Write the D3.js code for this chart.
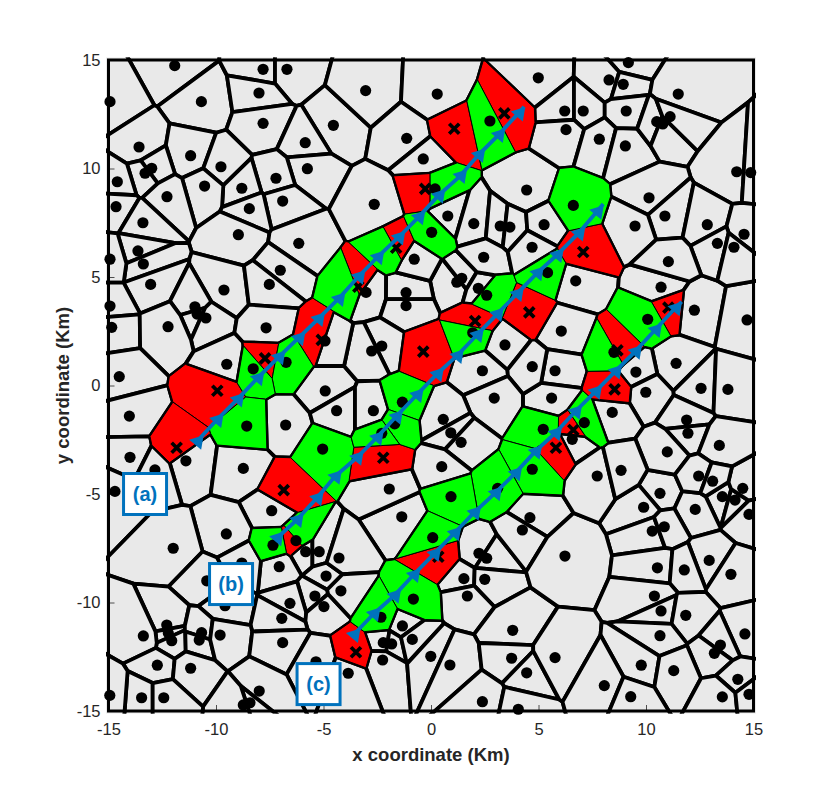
<!DOCTYPE html>
<html>
<head>
<meta charset="utf-8">
<script src="https://cdn.jsdelivr.net/npm/d3@7/dist/d3.min.js"></script>
<style>
html,body{margin:0;padding:0;background:#fff}
svg{display:block}
text{font-family:"Liberation Sans",Arial,sans-serif}
</style>
</head>
<body>
<svg id="c" width="830" height="799"></svg>
<script>
const tickValues = [-15,-10,-5,0,5,10,15];
const xTitle = "x coordinate (Km)";
const yTitle = "y coordinate (Km)";

const graySites = [[-11.92,14.74],[-14.93,13.08],[-10.68,13.08],[-7.81,14.57],[-6.70,14.57],[-8.00,13.48],[-7.81,12.08],[-4.54,11.99],[-5.85,11.19],[-13.58,10.99],[-11.18,10.59],[-9.77,10.08],[-5.75,9.99],[-12.99,10.01],[-13.30,9.78],[-14.59,9.39],[-7.21,9.55],[-8.80,9.09],[-10.53,9.19],[-12.28,8.70],[-6.90,8.50],[-8.45,8.15],[-14.65,8.24],[-13.40,7.50],[-8.96,6.95],[-6.15,6.55],[-13.63,6.20],[-13.38,5.60],[-14.93,5.82],[-7.01,5.31],[-13.04,4.66],[-9.63,4.40],[-7.52,4.66],[-14.93,3.66],[-10.98,3.63],[-10.88,3.29],[-10.47,3.11],[-14.85,2.68],[-12.23,2.71],[-7.67,2.66],[-9.50,0.98],[-14.50,0.41],[-4.92,-0.25],[-14.03,-1.41],[-6.76,-1.82],[-11.40,-3.47],[-14.00,-3.31],[-8.73,-3.82],[-12.84,-3.89],[-14.70,-4.88],[-7.41,-5.77],[-9.52,-6.84],[-11.99,-7.50],[-5.83,-7.66],[-5.20,-7.66],[-7.06,-8.35],[-8.80,-8.18],[-10.43,-9.00],[-4.88,-8.78],[-5.40,-9.70],[-6.56,-10.04],[-4.98,-10.19],[-9.58,-10.15],[-6.94,-10.73],[-12.29,-11.04],[-12.22,-11.41],[-12.06,-11.76],[-13.38,-11.54],[-10.67,-11.39],[-10.78,-11.73],[-9.81,-11.50],[-6.90,-11.85],[-12.73,-12.89],[-11.18,-13.03],[-5.35,-12.73],[-7.99,-14.08],[-8.42,-14.62],[-8.73,-14.72],[-13.46,-14.39],[-12.43,-14.39],[-14.94,-14.28],[-1.36,-6.05],[-1.94,-4.77],[-4.28,-7.95],[-4.19,-9.46],[2.23,-7.73],[2.59,-7.96],[1.53,-8.90],[2.50,-8.93],[1.69,-9.70],[-1.33,-11.08],[-2.22,-11.85],[-1.83,-11.91],[-0.87,-11.70],[3.80,-11.28],[-2.25,-12.65],[-0.01,-12.48],[0.88,-12.88],[-3.85,-13.26],[3.75,-12.57],[4.45,-13.24],[2.39,-14.57],[4.06,-14.92],[4.60,-6.09],[4.25,-6.66],[10.65,-4.97],[13.55,-5.12],[14.14,-5.28],[14.50,-4.74],[14.79,-5.94],[9.89,-5.61],[12.29,-5.71],[10.29,-6.71],[10.85,-6.51],[6.23,-7.86],[12.94,-8.06],[10.53,-8.40],[11.78,-8.50],[13.95,-8.70],[10.39,-9.70],[10.70,-10.39],[11.85,-10.59],[10.65,-11.53],[14.60,-11.45],[13.46,-11.96],[13.18,-12.34],[5.77,-12.54],[9.78,-12.89],[11.29,-13.14],[14.27,-13.54],[8.06,-13.83],[9.29,-14.34],[13.55,-14.35],[14.79,-14.23],[6.73,4.82],[10.70,4.53],[12.25,3.47],[14.70,3.02],[6.06,2.51],[11.40,1.02],[9.53,0.62],[5.77,0.68],[9.99,-0.31],[12.56,-0.13],[13.81,-0.18],[5.61,-0.58],[8.43,-1.24],[6.57,-2.48],[11.89,-1.59],[11.95,-2.20],[13.41,-2.76],[10.99,-3.06],[7.73,-4.17],[8.84,-3.91],[12.45,-4.17],[13.10,-4.41],[1.20,4.76],[1.43,4.94],[2.20,4.48],[-3.02,4.29],[-1.16,4.28],[-1.16,3.68],[-2.29,1.82],[-2.76,1.59],[3.44,1.87],[2.39,0.68],[4.71,0.87],[2.94,-0.58],[-4.39,-1.16],[-2.68,-1.16],[0.57,-1.56],[0.92,-2.18],[1.40,-2.62],[0.50,-3.74],[-3.04,13.59],[0.29,13.43],[4.99,14.18],[-1.13,11.39],[-0.36,10.44],[4.45,9.01],[-2.64,8.35],[0.78,7.81],[1.99,7.46],[3.22,7.35],[3.67,7.30],[5.26,7.41],[-0.78,5.82],[2.45,5.91],[4.70,6.37],[9.18,14.88],[8.28,14.08],[8.94,13.88],[11.50,13.43],[6.22,12.65],[7.08,12.65],[9.08,12.65],[6.28,11.79],[7.83,11.35],[9.04,11.04],[10.50,12.16],[10.78,12.05],[11.12,12.39],[14.22,9.85],[14.87,9.81],[10.14,8.65],[10.88,7.81],[9.49,7.35],[12.85,7.41],[14.56,6.97],[13.32,6.55],[14.09,6.37],[11.04,5.71],[-4.93,2.05]];

const redCrossSites = [[1.08,11.83],[3.41,12.54],[-0.27,9.06],[-1.62,6.35],[-3.38,4.55],[-5.08,2.10],[-7.72,1.25],[-9.94,-0.24],[-11.83,-2.87],[-6.85,-4.82],[0.34,-7.89],[-3.49,-12.29],[-2.22,-3.33],[-0.36,1.56],[2.05,2.97],[4.57,3.37],[7.08,6.15],[8.67,1.62],[11.04,3.59],[8.54,-0.18],[6.62,-2.05],[5.81,-2.87]];
const redDotSites = [[-6.28,-7.15]];
const greenSites = [[2.74,12.19],[0.19,9.06],[0.03,7.06],[-6.74,1.07],[-8.27,0.77],[-8.57,-1.87],[-5.04,-2.93],[-7.35,-7.36],[-1.33,-0.77],[-1.69,-1.77],[-2.29,-2.20],[1.94,2.43],[2.59,4.16],[5.42,5.20],[6.62,8.30],[10.08,3.05],[8.51,1.53],[7.13,-1.71],[5.22,-2.02],[4.71,-3.86],[3.10,-4.74],[0.93,-5.12],[0.08,-7.01],[-0.82,-9.84],[-2.33,-10.68]];
const greenHiddenSites = [[-1.73,6.29],[-3.56,4.48],[-6.19,-7.07]];

const trackA = [[-10.90,-2.59],[-9.97,-1.59],[-9.01,-0.64],[-8.08,0.33],[-7.10,1.30],[-6.17,2.18],[-5.26,3.06],[-4.31,3.99],[-3.38,5.01],[-2.50,5.91],[-1.52,6.82],[-0.59,7.75],[0.34,8.75],[1.35,9.65],[2.20,10.62],[3.13,11.54],[4.06,12.54]];
const tipA = [4.33,12.85];
const trackB = [[-7.18,-7.04],[-6.25,-6.20],[-5.32,-5.20],[-4.47,-4.20],[-3.46,-3.33],[-2.53,-2.41],[-1.63,-1.44],[-0.67,-0.44],[0.27,0.52],[1.20,1.36],[2.13,2.33],[3.06,3.28],[3.99,4.22],[4.92,5.17],[5.85,6.01],[6.85,7.01],[7.71,8.01]];
const tipB = [8.01,8.36];
const trackC = [[-3.61,-11.50],[-2.68,-10.53],[-1.72,-9.69],[-0.82,-8.73],[0.14,-7.76],[1.08,-6.81],[2.00,-5.86],[2.98,-4.96],[3.91,-4.05],[4.84,-3.05],[5.77,-2.20],[6.70,-1.21],[7.63,-0.29],[8.56,0.64],[9.49,1.56],[10.42,2.56],[11.35,3.56]];
const tipC = [11.66,3.86];

const panelNames = ["(a)","(b)","(c)"];
const panelAnchors = [[-13.30,-5.00],[-9.30,-9.15],[-5.23,-13.76]];

const BLUE = "#0072BD", RED = "#ff0000", GREEN = "#00ff00", GRAY = "#e9e9e9";
const L = 108.5, R = 753.5, T = 60, B = 711;
const svg = d3.select("#c");
const x = d3.scaleLinear().domain([-15,15]).range([L,R]);
const y = d3.scaleLinear().domain([-15,15]).range([B,T]);

const all = [
  ...graySites.map(p=>({p,kind:"gray",mark:"dot"})),
  ...redCrossSites.map(p=>({p,kind:"red",mark:"x"})),
  ...redDotSites.map(p=>({p,kind:"red",mark:"dot"})),
  ...greenSites.map(p=>({p,kind:"green",mark:"dot"})),
  ...greenHiddenSites.map(p=>({p,kind:"green",mark:"none"}))
];
const delaunay = d3.Delaunay.from(all, d=>x(d.p[0]), d=>y(d.p[1]));
const vor = delaunay.voronoi([L-400,T-400,R+400,B+400]);
const polyPath = i => "M"+vor.cellPolygon(i).map(q=>q.join(",")).join("L")+"Z";
all.forEach((d,i)=>d.path=polyPath(i));

svg.append("defs").append("clipPath").attr("id","clipCells").append("rect")
  .attr("x",L-2.5).attr("y",T-2.5).attr("width",R-L+5).attr("height",B-T+5);

svg.append("rect").attr("x",L).attr("y",T).attr("width",R-L).attr("height",B-T).attr("fill",GRAY);

const cells = svg.append("g").attr("clip-path","url(#clipCells)");
cells.append("g").selectAll("path").data(all).join("path")
  .attr("d",d=>d.path).attr("fill",GRAY).attr("stroke","#000").attr("stroke-width",3.8).attr("stroke-linejoin","round");
cells.append("g").selectAll("path").data(all.filter(d=>d.kind!=="gray")).join("path")
  .attr("d",d=>d.path).attr("fill",d=>d.kind==="red"?RED:GREEN).attr("stroke","#000").attr("stroke-width",1).attr("stroke-linejoin","round");

// axes
const fmt = d=>String(d);
const xAxis = d3.axisBottom(x).tickValues(tickValues).tickFormat(fmt).tickSizeInner(-6).tickSizeOuter(0).tickPadding(12);
const yAxis = d3.axisLeft(y).tickValues(tickValues).tickFormat(fmt).tickSizeInner(-6).tickSizeOuter(0).tickPadding(8);
const gx = svg.append("g").attr("transform",`translate(0,${B})`).call(xAxis);
const gy = svg.append("g").attr("transform",`translate(${L},0)`).call(yAxis);
[gx,gy].forEach(g=>{
  g.select(".domain").remove();
  g.selectAll("line").attr("stroke","#262626").attr("stroke-width",0.8);
  g.selectAll("text").attr("fill","#262626").style("font-size","16.5px").style("font-family",'"Liberation Sans",Arial,sans-serif');
});

svg.append("rect").attr("x",L).attr("y",T).attr("width",R-L).attr("height",B-T)
  .attr("fill","none").attr("stroke","#000").attr("stroke-width",3);

// markers
const marks = svg.append("g");
marks.selectAll("circle").data(all.filter(d=>d.mark==="dot")).join("circle")
  .attr("cx",d=>x(d.p[0])).attr("cy",d=>y(d.p[1])).attr("r",5.6).attr("fill","#000");
marks.selectAll("path").data(all.filter(d=>d.mark==="x")).join("path")
  .attr("transform",d=>`translate(${x(d.p[0])},${y(d.p[1])})`)
  .attr("d","M-5,-5L5,5M-5,5L5,-5")
  .attr("stroke","#000").attr("stroke-width",3.7).attr("fill","none");

// tracks
const line = d3.line().x(d=>x(d[0])).y(d=>y(d[1]));
[[trackA,tipA],[trackB,tipB],[trackC,tipC]].forEach(([t,tip])=>{
  const g = svg.append("g");
  g.append("path").attr("d",line([...t,tip])).attr("fill","none").attr("stroke",BLUE).attr("stroke-width",3.8);
  g.selectAll("path.h").data(t).join("path").attr("class","h")
    .attr("transform",d=>`translate(${x(d[0])},${y(d[1])})`)
    .attr("d","M-7.5,-2L7,-6.5L4.5,8Z").attr("fill",BLUE);
});

// panel tags
const tags = svg.append("g").selectAll("g").data(panelNames).join("g")
  .attr("transform",(d,i)=>`translate(${x(panelAnchors[i][0])},${y(panelAnchors[i][1])})`);
tags.append("rect").attr("x",-21.5).attr("y",-20.5).attr("width",43).attr("height",41)
  .attr("fill","#fff").attr("stroke",BLUE).attr("stroke-width",3);
tags.append("text").text(d=>d).attr("text-anchor","middle").attr("dy","0.35em")
  .attr("fill",BLUE).attr("font-weight","bold").attr("font-size",20);

// titles
svg.append("text").text(xTitle).attr("x",431).attr("y",761).attr("text-anchor","middle")
  .attr("fill","#262626").attr("font-weight","bold").attr("font-size",18.5);
svg.append("text").text(yTitle).attr("transform","translate(69,385.5) rotate(-90)").attr("text-anchor","middle")
  .attr("fill","#262626").attr("font-weight","bold").attr("font-size",18.5);
</script>
</body>
</html>
